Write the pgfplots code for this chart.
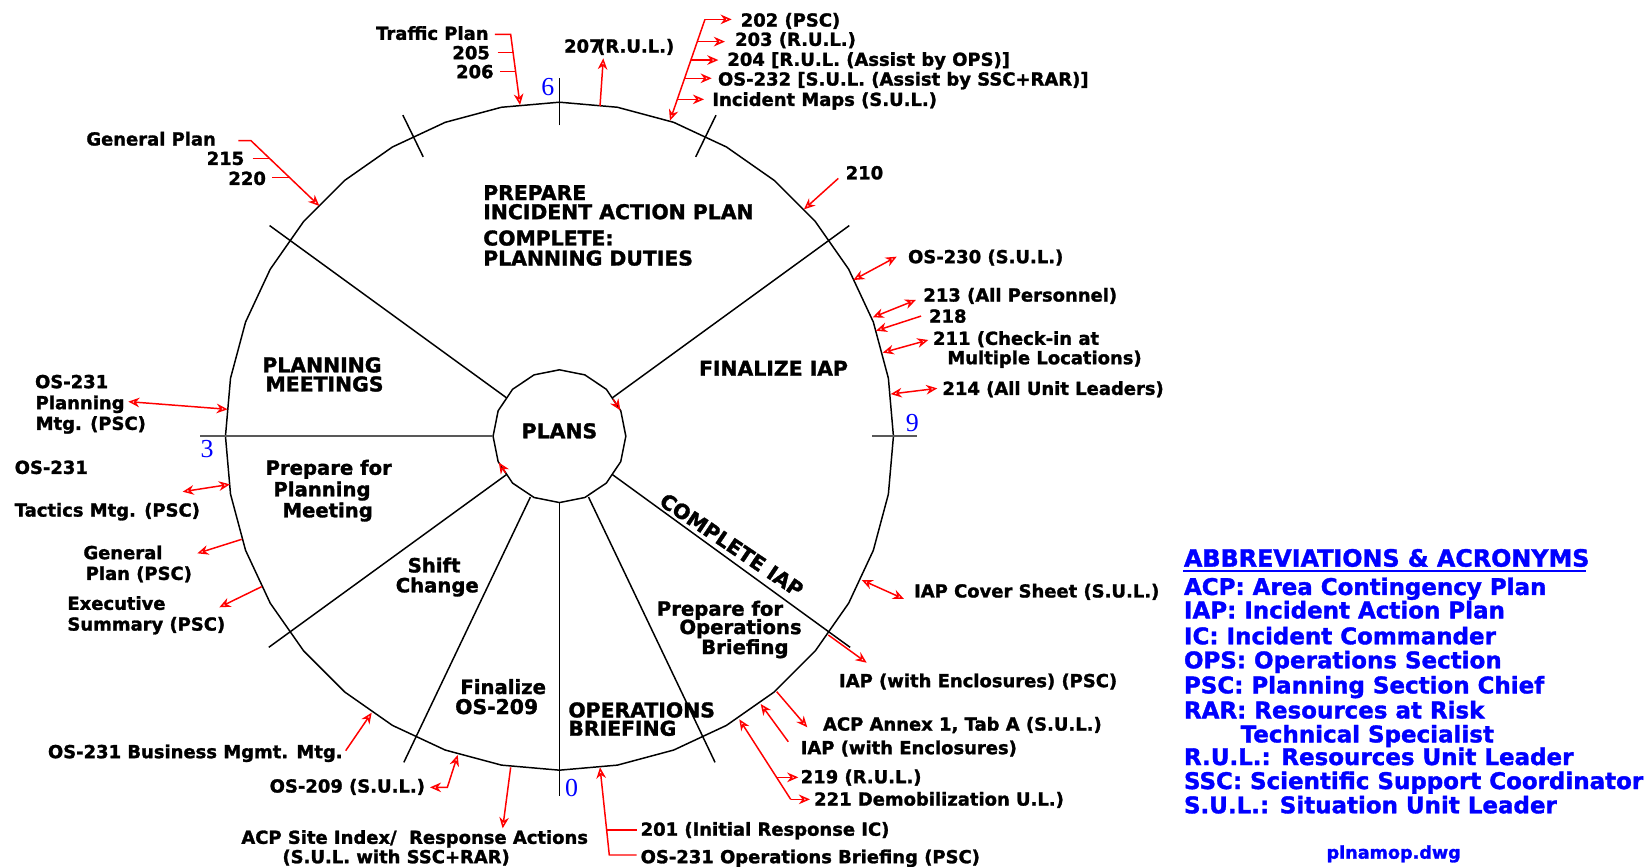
\documentclass[border=0pt]{standalone}
\usepackage{pgfplots}
\pgfplotsset{compat=1.18}
\usetikzlibrary{arrows.meta}
\usepackage{fontspec}
\setmainfont{DejaVu Sans}[BoldFeatures={FakeBold=1.5}]
\newfontfamily\numfont{Liberation Serif}

% label fonts
\newcommand\fo{\fontsize{4.85}{5.8}\selectfont\bfseries}
\newcommand\fcap{\fontsize{5.5}{6.4}\selectfont\bfseries}
\newcommand\flow{\fontsize{5.3}{6.2}\selectfont\bfseries}
\newcommand\fab{\fontsize{6.2}{7}\selectfont\bfseries}
\definecolor{cadred}{RGB}{255,0,0}
\definecolor{cadblue}{RGB}{0,0,255}

\tikzset{
  lab/.style={font=\fo, inner sep=0pt, anchor=base west},
  labr/.style={font=\fo, inner sep=0pt, anchor=base east},
  sec/.style={font=\fcap, inner sep=0pt, anchor=base},
  secl/.style={font=\fcap, inner sep=0pt, anchor=base west},
  low/.style={font=\flow, inner sep=0pt, anchor=base},
  abb/.style={font=\fab, text=cadblue, inner sep=0pt, anchor=base west},
  num/.style={font=\numfont\fontsize{7}{8}\selectfont, text=cadblue, inner sep=0pt, anchor=center},
  tip/.tip={Stealth[open, length=3pt, width=2.6pt]},
}

\begin{document}
\begin{tikzpicture}
\begin{axis}[
  width=15.68cm, height=8.22cm, scale only axis,
  xmin=0, xmax=1568, ymin=0, ymax=822, y dir=reverse,
  hide axis, clip=false,
  arr/.style={cadred, line width=0.4pt, -tip},
  dbl/.style={cadred, line width=0.4pt, tip-tip},
  ln/.style={cadred, line width=0.4pt},
  blk/.style={black, line width=0.4pt},
]
% outer ring (36 sides)
\addplot[blk] coordinates {(848,414) (843.2,359) (828.9,305.6) (805.5,255.5) (773.8,210.2) (734.8,171.2) (689.5,139.5) (639.4,116.1) (586,101.8) (531,97) (476,101.8) (422.6,116.1) (372.5,139.5) (327.2,171.2) (288.2,210.2) (256.5,255.5) (233.1,305.6) (218.8,359) (214,414) (218.8,469) (233.1,522.4) (256.5,572.5) (288.2,617.8) (327.2,656.8) (372.5,688.5) (422.6,711.9) (476,726.2) (531,731) (586,726.2) (639.4,711.9) (689.5,688.5) (734.8,656.8) (773.8,617.8) (805.5,572.5) (828.9,522.4) (843.2,469) (848,414)};
% inner ring (16 sides)
\addplot[blk] coordinates {(594,414) (589.2,389.9) (575.5,369.5) (555.1,355.8) (531,351) (506.9,355.8) (486.5,369.5) (472.8,389.9) (468,414) (472.8,438.1) (486.5,458.5) (506.9,472.2) (531,477) (555.1,472.2) (575.5,458.5) (589.2,438.1) (594,414)};
% spokes
\addplot[blk] coordinates {(581.2,377.6) (806.1,214.1)};
\addplot[blk] coordinates {(480.8,377.6) (255.9,214.1)};
\addplot[blk] coordinates {(480.8,450.4) (255.1,614.4)};
\addplot[blk] coordinates {(581.2,450.4) (806.9,614.4)};
\addplot[black!65, line width=0.5pt] coordinates {(468,414) (190,414)};
\addplot[blk] coordinates {(531,477) (531,755.5)};
\addplot[blk] coordinates {(503.4,471.8) (383.3,723.6)};
\addplot[blk] coordinates {(558.6,471.8) (678.7,723.6)};
% ticks
\addplot[blk] coordinates {(531,119) (531,74)};
\addplot[black!65, line width=0.5pt] coordinates {(828,414) (870,414)};
\addplot[blk] coordinates {(401.7,148.9) (382.4,109.3)};
\addplot[blk] coordinates {(660.3,148.9) (679.6,109.3)};

% red leaders
\addplot[arr] coordinates {(469.8,32.6) (484.7,32.6) (493.6,99.7)};
\addplot[ln] coordinates {(472.4,50) (487.0,50)};
\addplot[ln] coordinates {(474.6,68) (489.4,68)};
\addplot[arr] coordinates {(569.5,100.6) (572.6,55.4)};
\addplot[arr] coordinates {(669.1,18.4) (635.9,114.5)};
\addplot[arr] coordinates {(669.1,18.4) (694.5,18.4)};
\addplot[arr] coordinates {(661.8,39.5) (688.1,39.5)};
\addplot[arr] coordinates {(655.8,57) (681.8,57)};
\addplot[arr] coordinates {(649.8,74.3) (675.5,74.3)};
\addplot[arr] coordinates {(642.9,94.3) (668.2,94.3)};
\addplot[arr] coordinates {(795.7,169.3) (763.1,198.7)};
\addplot[dbl] coordinates {(809.9,265.8) (851.1,243.6)};
\addplot[dbl] coordinates {(828.3,301.2) (869.4,284.7)};
\addplot[arr] coordinates {(874.2,300) (831.4,313.9)};
\addplot[dbl] coordinates {(837.8,334.7) (881.1,322.7)};
\addplot[dbl] coordinates {(845.4,374) (889.6,368.6)};
\addplot[dbl] coordinates {(817.9,550.5) (858,568.5)};
\addplot[arr] coordinates {(786.2,602.7) (822.6,629)};
\addplot[arr] coordinates {(737.2,656.5) (766.2,690.3)};
\addplot[arr] coordinates {(748.2,704) (722,668.2)};
\addplot[arr] coordinates {(750.5,758.7) (701.7,682.7)};
\addplot[arr] coordinates {(737.2,737.8) (757.7,737.8)};
\addplot[arr] coordinates {(750.5,758.7) (768.8,758.7)};
\addplot[arr] coordinates {(604.3,811.5) (578.3,811.5) (569.5,728.3)};
\addplot[ln] coordinates {(575.8,787.8) (604.3,787.8)};
\addplot[arr] coordinates {(484.7,728.3) (477.1,786.2)};
\addplot[dbl] coordinates {(434.4,716.6) (424.6,747.3) (408.1,747.3)};
\addplot[arr] coordinates {(328.1,712.5) (352.8,676.4)};
\addplot[arr] coordinates {(248.4,556.8) (208.2,576.4)};
\addplot[arr] coordinates {(229.4,511.9) (187.3,525.2)};
\addplot[dbl] coordinates {(173.4,466.7) (218.3,459.7)};
\addplot[dbl] coordinates {(121.8,381.2) (216.1,388.5)};
\addplot[arr] coordinates {(226.2,133.5) (238.2,133.5) (303.1,195.5)};
\addplot[ln] coordinates {(239.8,150.3) (255.8,150.3)};
\addplot[ln] coordinates {(258.2,168.3) (274.6,168.3)};
\addplot[arr] coordinates {(582,379) (588.8,389.5)};
\addplot[arr] coordinates {(480,449) (473.5,439)};
% underline of the key title
\addplot[cadblue, line width=0.55pt] coordinates {(1123.1,541.6) (1505.3,541.6)};

% ring numbers
\node[num] at (axis cs:520,82.5) {6};
\node[num] at (axis cs:196.6,426) {3};
\node[num] at (axis cs:866,401.8) {9};
\node[num] at (axis cs:542.5,748.2) {0};

% section labels
\node[secl] at (axis cs:458,189.9) {PREPARE};
\node[secl] at (axis cs:458,208) {INCIDENT ACTION PLAN};
\node[secl] at (axis cs:458,233) {COMPLETE:};
\node[secl] at (axis cs:458,252) {PLANNING DUTIES};
\node[secl] at (axis cs:662.8,356.6) {FINALIZE IAP};
\node[sec] at (axis cs:305.6,353.4) {PLANNING};
\node[sec] at (axis cs:308,371.5) {MEETINGS};
\node[sec] at (axis cs:531,416) {PLANS};
\node[low] at (axis cs:312,450.6) {Prepare for};
\node[low] at (axis cs:305.6,471.1) {Planning};
\node[low] at (axis cs:311,491) {Meeting};
\node[low] at (axis cs:412,543.3) {Shift};
\node[low] at (axis cs:415,562.2) {Change};
\node[low] at (axis cs:683.4,584.4) {Prepare for};
\node[low] at (axis cs:702.9,601.8) {Operations};
\node[low] at (axis cs:707,620.8) {Briefing};
\node[low] at (axis cs:477.6,658.7) {Finalize};
\node[sec] at (axis cs:471.4,677.7) {OS-209};
\node[secl] at (axis cs:538.8,680.9) {OPERATIONS};
\node[secl] at (axis cs:538.8,698.3) {BRIEFING};
\node[font=\fcap, inner sep=0pt, rotate=-34] at (axis cs:676.7,505.2) {COMPLETE};
\node[font=\fcap, inner sep=0pt, rotate=-34] at (axis cs:745.4,551.6) {IAP};

% outer labels
\node[labr] at (axis cs:464.4,37.8) {Traffic Plan};
\node[labr] at (axis cs:465.7,56.2) {205};
\node[labr] at (axis cs:469.2,74.2) {206};
\node[lab] at (axis cs:534.7,49.9) {207\kern-1.2pt(R.U.L.)};
\node[lab] at (axis cs:702.4,25.2) {202 (PSC)};
\node[lab] at (axis cs:697,43.5) {203 (R.U.L.)};
\node[lab] at (axis cs:689.7,62.5) {204 [R.U.L. (Assist by OPS)]};
\node[lab] at (axis cs:680.8,81.2) {OS-232 [S.U.L. (Assist by SSC+RAR)]};
\node[lab] at (axis cs:675.5,100.5) {Incident Maps (S.U.L.)};
\node[lab] at (axis cs:802,170.2) {210};
\node[lab] at (axis cs:861.2,249.8) {OS-230 (S.U.L.)};
\node[lab] at (axis cs:875.7,286.2) {213 (All Personnel)};
\node[lab] at (axis cs:881.1,306.2) {218};
\node[lab] at (axis cs:884.9,327.3) {211 (Check-in at};
\node[lab] at (axis cs:898.5,345.7) {Multiple Locations)};
\node[lab] at (axis cs:893.8,374.8) {214 (All Unit Leaders)};
\node[lab] at (axis cs:866.9,567.1) {IAP Cover Sheet (S.U.L.)};
\node[lab] at (axis cs:795.7,652.2) {IAP (with Enclosures) (PSC)};
\node[lab] at (axis cs:780.5,693.4) {ACP Annex 1, Tab A (S.U.L.)};
\node[lab] at (axis cs:759.3,715.8) {IAP (with Enclosures)};
\node[lab] at (axis cs:759.3,743.4) {219 (R.U.L.)};
\node[lab] at (axis cs:772,764.6) {221 Demobilization U.L.)};
\node[lab] at (axis cs:607.4,793.2) {201 (Initial Response IC)};
\node[lab] at (axis cs:607.4,819.3) {OS-231 Operations Briefing (PSC)};
\node[lab] at (axis cs:228.4,800.9) {ACP Site Index/\ \ Response Actions};
\node[lab] at (axis cs:267.4,819.3) {(S.U.L. with SSC+RAR)};
\node[lab] at (axis cs:255.3,752.2) {OS-209 (S.U.L.)};
\node[labr] at (axis cs:325.9,719.6) {OS-231 Business Mgmt. Mtg.};
\node[lab] at (axis cs:63.3,578.8) {Executive};
\node[lab] at (axis cs:63.3,598.5) {Summary (PSC)};
\node[lab] at (axis cs:78.5,530.7) {General};
\node[lab] at (axis cs:80.7,550.4) {Plan (PSC)};
\node[lab] at (axis cs:13.3,449.8) {OS-231};
\node[lab] at (axis cs:13.3,490.3) {Tactics Mtg. (PSC)};
\node[lab] at (axis cs:32.6,368.4) {OS-231};
\node[lab] at (axis cs:33.2,388.4) {Planning};
\node[lab] at (axis cs:33.2,408) {Mtg. (PSC)};
\node[labr] at (axis cs:205.6,138.1) {General Plan};
\node[labr] at (axis cs:232.5,156.5) {215};
\node[labr] at (axis cs:253.1,175.5) {220};

% key
\node[abb, font=\fontsize{6.43}{7}\selectfont\bfseries] at (axis cs:1123.1,537.8) {ABBREVIATIONS \& ACRONYMS};
\node[abb] at (axis cs:1123.1,564.7) {ACP: Area Contingency Plan};
\node[abb] at (axis cs:1123.1,586.9) {IAP: Incident Action Plan};
\node[abb] at (axis cs:1123.1,611.5) {IC: Incident Commander};
\node[abb] at (axis cs:1123.1,634.3) {OPS: Operations Section};
\node[abb] at (axis cs:1123.1,658.1) {PSC: Planning Section Chief};
\node[abb] at (axis cs:1123.1,681.8) {RAR: Resources at Risk};
\node[abb] at (axis cs:1176.9,704.6) {Technical Specialist};
\node[abb] at (axis cs:1123.1,726.1) {R.U.L.: Resources Unit Leader};
\node[abb] at (axis cs:1123.1,748.9) {SSC: Scientific Support Coordinator};
\node[abb] at (axis cs:1123.1,771.9) {S.U.L.: Situation Unit Leader};
\node[font=\fontsize{4.75}{5.5}\selectfont\bfseries, text=cadblue, inner sep=0pt, anchor=base] at (axis cs:1322.8,815) {plnamop.dwg};
\end{axis}
\pgfresetboundingbox
\path[use as bounding box] (current axis.south west) rectangle (current axis.north east);
\end{tikzpicture}
\end{document}
